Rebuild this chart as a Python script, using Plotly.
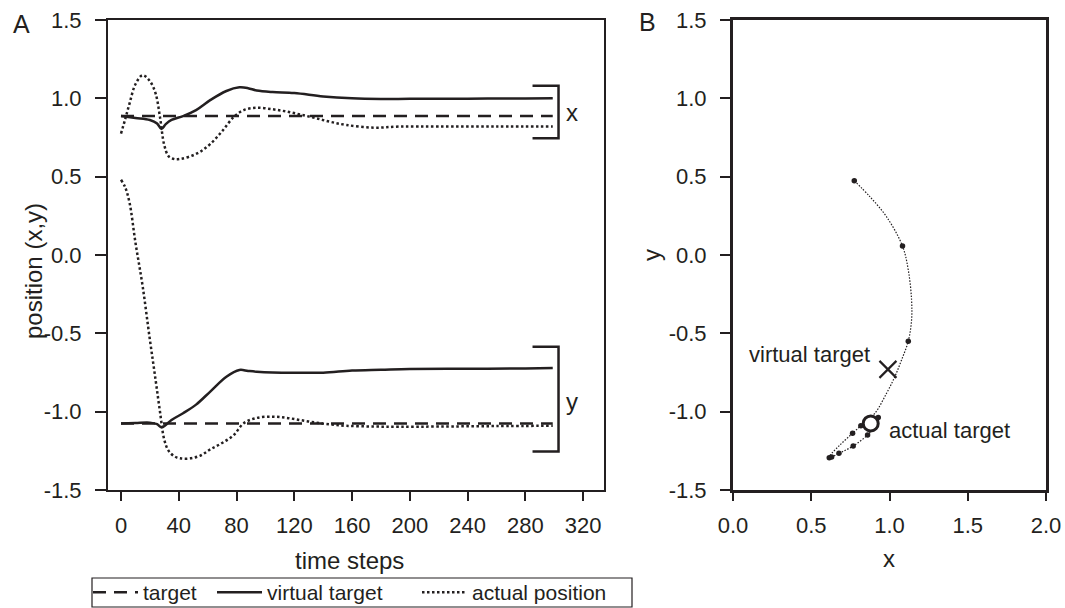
import plotly.graph_objects as go

# ---------------- data ----------------
# Panel A: target (dashed)
target_t = [0, 299]
target_x = [0.887, 0.887]
target_y = [-1.075, -1.075]

# Panel A: virtual target (solid)
vt_t = [0, 10, 20, 25, 28, 31, 35, 43, 52, 62, 73, 82, 88, 94, 105, 120, 140, 160, 180, 200, 240, 280, 299]
vt_x = [0.887, 0.875, 0.862, 0.84, 0.805, 0.835, 0.862, 0.887, 0.925, 0.99, 1.047, 1.07, 1.065, 1.05,
        1.04, 1.034, 1.012, 1.0, 0.996, 0.997, 0.998, 0.999, 1.0]
vt_y = [-1.075, -1.072, -1.07, -1.08, -1.10, -1.085, -1.053, -1.01, -0.955, -0.87, -0.777, -0.734,
        -0.74, -0.745, -0.75, -0.752, -0.751, -0.738, -0.733, -0.728, -0.726, -0.724, -0.722]

# Panel A: actual position (dotted)
ap_t = [0, 3, 6, 10, 15, 20, 24, 27, 30, 33, 37, 41, 48, 55, 62, 70, 78, 85, 94, 105, 115, 125,
        135, 145, 156, 175, 193, 220, 260, 299]
ap_x = [0.775, 0.87, 0.97, 1.09, 1.148, 1.11, 1.03, 0.88, 0.70, 0.63, 0.612, 0.613, 0.63, 0.66, 0.71,
        0.79, 0.88, 0.925, 0.94, 0.93, 0.915, 0.895, 0.873, 0.85, 0.83, 0.813, 0.82, 0.82, 0.82, 0.82]
ap_y = [0.48, 0.43, 0.33, 0.08, -0.2, -0.54, -0.8, -1.0, -1.18, -1.25, -1.285, -1.298, -1.298, -1.28,
        -1.24, -1.2, -1.15, -1.074, -1.04, -1.032, -1.04, -1.055, -1.07, -1.082, -1.09, -1.095,
        -1.096, -1.095, -1.092, -1.09]

# Panel A brackets
bracket_t = [285, 303]
bracket_x = [0.745, 1.08]
bracket_y = [-1.255, -0.585]

# Panel B: trajectory of the actual position
traj_x = [0.775, 0.875, 0.981, 1.083, 1.12, 1.141, 1.141, 1.12, 1.077, 1.034, 0.981, 0.907, 0.85,
          0.817, 0.764, 0.683, 0.62, 0.615, 0.677, 0.768, 0.86, 0.90, 0.928]
traj_y = [0.474, 0.372, 0.244, 0.057, -0.096, -0.287, -0.415, -0.55, -0.67, -0.777, -0.883, -1.01,
          -1.06, -1.09, -1.138, -1.213, -1.28, -1.294, -1.266, -1.219, -1.149, -1.10, -1.038]
mark_x = [0.775, 1.083, 1.12, 0.817, 0.764, 0.615, 0.63, 0.677, 0.768, 0.86, 0.928]
mark_y = [0.474, 0.057, -0.55, -1.09, -1.138, -1.294, -1.29, -1.266, -1.219, -1.149, -1.038]
virtual_target_xy = [0.99, -0.73]
actual_target_xy = [0.88, -1.075]

# tick labels
a_xticks = [0, 40, 80, 120, 160, 200, 240, 280, 320]
y_ticks = [-1.5, -1.0, -0.5, 0.0, 0.5, 1.0, 1.5]
y_ticktext = ["-1.5", "-1.0", "-0.5", "0.0", "0.5", "1.0", "1.5"]
b_xticks = [0.0, 0.5, 1.0, 1.5, 2.0]
b_xticktext = ["0.0", "0.5", "1.0", "1.5", "2.0"]

# ---------------- styling ----------------
INK = "#231f20"
FONT = "Liberation Sans, Arial, Helvetica, sans-serif"
W, H = 1065, 608
DASH = "13px,8px"
DOT = "2.5px,2.5px"
LW = 2.5
TICK_FS = 22
TITLE_FS = 24
ANN_FS = 22
LEG_FS = 21


def px(x):
    return x / W


def py(y):
    return 1 - y / H


fig = go.Figure()

# target (dashed)
fig.add_trace(go.Scatter(x=target_t, y=target_x, mode="lines", name="target", legend="legend",
                         line=dict(color=INK, width=LW, dash=DASH), xaxis="x", yaxis="y"))
fig.add_trace(go.Scatter(x=target_t, y=target_y, mode="lines", showlegend=False,
                         line=dict(color=INK, width=LW, dash=DASH), xaxis="x", yaxis="y"))
# virtual target (solid)
fig.add_trace(go.Scatter(x=vt_t, y=vt_x, mode="lines", name="virtual target", line_shape="spline",
                         legend="legend2", line=dict(color=INK, width=LW), xaxis="x", yaxis="y"))
fig.add_trace(go.Scatter(x=vt_t, y=vt_y, mode="lines", showlegend=False, line_shape="spline",
                         line=dict(color=INK, width=LW), xaxis="x", yaxis="y"))
# actual position (dotted)
fig.add_trace(go.Scatter(x=ap_t, y=ap_x, mode="lines", name="actual position", line_shape="spline",
                         legend="legend3", line=dict(color=INK, width=LW, dash=DOT),
                         xaxis="x", yaxis="y"))
fig.add_trace(go.Scatter(x=ap_t, y=ap_y, mode="lines", showlegend=False, line_shape="spline",
                         line=dict(color=INK, width=LW, dash=DOT), xaxis="x", yaxis="y"))

# brackets
for lo, hi in (bracket_x, bracket_y):
    fig.add_trace(go.Scatter(x=[bracket_t[0], bracket_t[1], bracket_t[1], bracket_t[0]],
                             y=[hi, hi, lo, lo], mode="lines", showlegend=False,
                             line=dict(color=INK, width=LW), xaxis="x", yaxis="y"))

# Panel B trajectory
fig.add_trace(go.Scatter(x=traj_x, y=traj_y, mode="lines", showlegend=False, line_shape="spline",
                         line=dict(color=INK, width=1.2, dash="1.5px,1.5px"), xaxis="x2", yaxis="y2"))
fig.add_trace(go.Scatter(x=mark_x, y=mark_y, mode="markers", showlegend=False,
                         marker=dict(color=INK, size=5.5), xaxis="x2", yaxis="y2"))
fig.add_trace(go.Scatter(x=[virtual_target_xy[0]], y=[virtual_target_xy[1]], mode="markers",
                         showlegend=False,
                         marker=dict(symbol="x-thin-open", size=17, color=INK,
                                     line=dict(color=INK, width=2.2)),
                         xaxis="x2", yaxis="y2"))
fig.add_trace(go.Scatter(x=[actual_target_xy[0]], y=[actual_target_xy[1]], mode="markers",
                         showlegend=False,
                         marker=dict(symbol="circle", size=15, color="white",
                                     line=dict(color=INK, width=3)),
                         xaxis="x2", yaxis="y2"))

axis_common = dict(showgrid=False, zeroline=False, ticks="outside", tickcolor=INK,
                   linecolor=INK, showline=True, mirror=True, automargin=False,
                   tickfont=dict(family=FONT, size=TICK_FS, color=INK))

leg_common = dict(orientation="h", xanchor="left", yanchor="top", y=py(572),
                  bgcolor="rgba(0,0,0,0)", borderwidth=0, itemwidth=45,
                  font=dict(family=FONT, size=LEG_FS, color=INK), itemclick=False)

fig.update_layout(
    template="none",
    width=W, height=H,
    margin=dict(l=0, r=0, t=0, b=0, pad=0, autoexpand=False),
    paper_bgcolor="white", plot_bgcolor="white",
    font=dict(family=FONT, size=TICK_FS, color=INK),
    xaxis=dict(domain=[px(108), px(604)], range=[-9, 334.5], tickvals=a_xticks,
               ticklen=9, tickwidth=2, linewidth=2, anchor="y", ticklabelstandoff=6, **axis_common),
    yaxis=dict(domain=[py(490), py(20)], range=[-1.5, 1.5], tickvals=y_ticks, ticktext=y_ticktext,
               ticklen=11, tickwidth=2, linewidth=2, anchor="x", ticklabelstandoff=9, **axis_common),
    xaxis2=dict(domain=[px(733), px(1046)], range=[0, 2], tickvals=b_xticks, ticktext=b_xticktext,
                ticklen=8, tickwidth=2, linewidth=3, anchor="y2", ticklabelstandoff=6, **axis_common),
    yaxis2=dict(domain=[py(490), py(20)], range=[-1.5, 1.5], tickvals=y_ticks, ticktext=y_ticktext,
                ticklen=10, tickwidth=2, linewidth=3, anchor="x2", ticklabelstandoff=9, **axis_common),
    legend=dict(x=px(88), **leg_common),
    legend2=dict(x=px(212), **leg_common),
    legend3=dict(x=px(417), **leg_common),
    showlegend=True,
)

# legend frame
fig.add_shape(type="rect", xref="paper", yref="paper", x0=px(92), x1=px(632), y0=py(607), y1=py(578),
              line=dict(color=INK, width=1.2), fillcolor="rgba(0,0,0,0)", layer="below")

ann = dict(showarrow=False)
big = dict(family=FONT, size=25, color=INK)
ttl = dict(family=FONT, size=TITLE_FS, color=INK)
af = dict(family=FONT, size=ANN_FS, color=INK)
fig.add_annotation(text="A", x=px(21), y=py(24), xref="paper", yref="paper",
                   xanchor="center", yanchor="middle", font=big, **ann)
fig.add_annotation(text="B", x=px(647), y=py(22), xref="paper", yref="paper",
                   xanchor="center", yanchor="middle", font=big, **ann)
fig.add_annotation(text="position (x,y)", x=px(33), y=py(271), xref="paper", yref="paper",
                   textangle=-90, xanchor="center", yanchor="middle", font=ttl, **ann)
fig.add_annotation(text="time steps", x=px(349), y=py(560), xref="paper", yref="paper",
                   xanchor="center", yanchor="middle", font=ttl, **ann)
fig.add_annotation(text="x", x=px(889), y=py(558), xref="paper", yref="paper",
                   xanchor="center", yanchor="middle", font=ttl, **ann)
fig.add_annotation(text="y", x=px(652), y=py(255), xref="paper", yref="paper",
                   textangle=-90, xanchor="center", yanchor="middle", font=ttl, **ann)
fig.add_annotation(text="x", x=312, y=0.91, xref="x", yref="y", xanchor="center", yanchor="middle",
                   font=ttl, **ann)
fig.add_annotation(text="y", x=312, y=-0.935, xref="x", yref="y", xanchor="center", yanchor="middle",
                   font=ttl, **ann)
fig.add_annotation(text="virtual target", x=0.89, y=-0.632, xref="x2", yref="y2",
                   xanchor="right", yanchor="middle", font=af, **ann)
fig.add_annotation(text="actual target", x=0.985, y=-1.12, xref="x2", yref="y2",
                   xanchor="left", yanchor="middle", font=af, **ann)

fig.write_html("out.html")
